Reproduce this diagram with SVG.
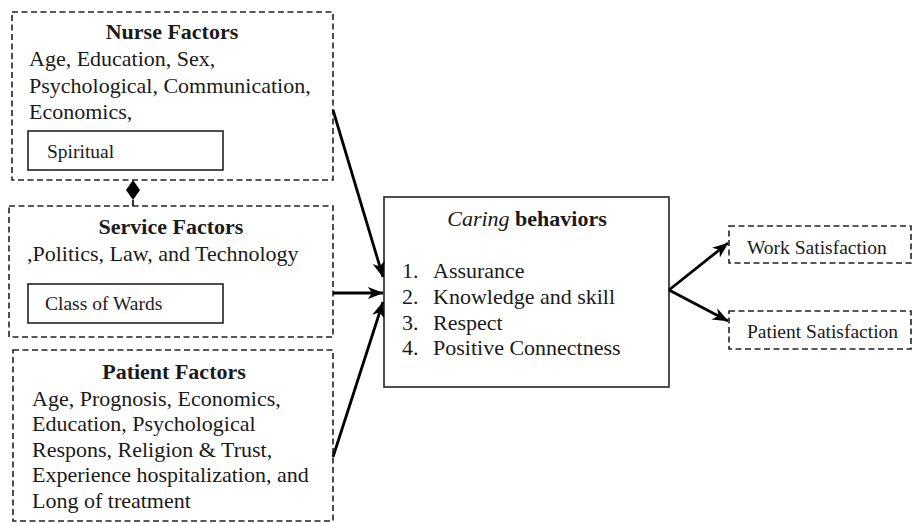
<svg xmlns="http://www.w3.org/2000/svg" width="912" height="523" viewBox="0 0 912 523">
<style>
.dash{fill:none;stroke:#222;stroke-width:1.6;stroke-dasharray:6,3.5}
.solid{fill:none;stroke:#222;stroke-width:1.6}
text{font-family:"Liberation Serif","Times New Roman",serif;fill:#1a1a1a}
.t{font-size:22px}
.h{font-size:22px;font-weight:bold;text-anchor:middle}
.s{font-size:19.5px}
.conn{fill:none;stroke:#000;stroke-width:2.8}
</style>
<defs>
<marker id="arr" markerWidth="16" markerHeight="16" viewBox="0 0 14 12" refX="13.5" refY="6" orient="auto" markerUnits="userSpaceOnUse">
<path d="M0,0.5 L14,6 L0,11.5 L4,6 z" fill="#000"/>
</marker>
</defs>
<rect width="912" height="523" fill="#fff"/>
<g id="nurse">
<rect class="dash" x="12" y="12" width="321" height="168"/>
<text class="h" x="172" y="39">Nurse Factors</text>
<text class="t" x="29" y="66">Age, Education, Sex,</text>
<text class="t" x="29" y="92.5">Psychological, Communication,</text>
<text class="t" x="29" y="119">Economics,</text>
<rect class="solid" x="28" y="131" width="195" height="39"/>
<text class="s" x="47" y="158">Spiritual</text>
</g>
<g id="service">
<rect class="dash" x="9" y="206" width="324" height="131"/>
<text class="h" x="171" y="234">Service Factors</text>
<text class="t" x="27" y="261">,Politics, Law, and Technology</text>
<rect class="solid" x="28" y="284" width="195" height="39"/>
<text class="s" x="45" y="310">Class of Wards</text>
</g>
<g id="patient">
<rect class="dash" x="13" y="350" width="320" height="171"/>
<text class="h" x="174" y="379">Patient Factors</text>
<text class="t" x="32" y="406">Age, Prognosis, Economics,</text>
<text class="t" x="32" y="431">Education, Psychological</text>
<text class="t" x="32" y="456.5">Respons, Religion &amp; Trust,</text>
<text class="t" x="32" y="482">Experience hospitalization, and</text>
<text class="t" x="32" y="507.5">Long of treatment</text>
</g>
<g id="caring">
<rect class="solid" x="384" y="197" width="285" height="190"/>
<text class="h" x="527" y="226"><tspan font-style="italic" font-weight="normal">Caring</tspan> behaviors</text>
<text class="t" x="402" y="278">1.</text>
<text class="t" x="433" y="278">Assurance</text>
<text class="t" x="402" y="303.5">2.</text>
<text class="t" x="433" y="303.5">Knowledge and skill</text>
<text class="t" x="402" y="329.5">3.</text>
<text class="t" x="433" y="329.5">Respect</text>
<text class="t" x="402" y="355">4.</text>
<text class="t" x="433" y="355">Positive Connectness</text>
</g>
<g id="work">
<rect class="dash" x="729" y="226" width="182" height="37"/>
<text class="s" x="747" y="254">Work Satisfaction</text>
</g>
<g id="patientsat">
<rect class="dash" x="729" y="311" width="182" height="38"/>
<text class="s" x="747" y="338">Patient Satisfaction</text>
</g>
<g id="connectors">
<path d="M133,180 L140,190 L133,200 L126,190 z" fill="#000"/>
<line x1="133" y1="200" x2="133" y2="206" stroke="#000" stroke-width="1.6"/>
<line class="conn" x1="333" y1="110" x2="383" y2="277" marker-end="url(#arr)"/>
<line class="conn" x1="333" y1="293" x2="383" y2="293" marker-end="url(#arr)"/>
<line class="conn" x1="333" y1="457" x2="383" y2="302" marker-end="url(#arr)"/>
<line class="conn" x1="669" y1="290" x2="728" y2="243" marker-end="url(#arr)"/>
<line class="conn" x1="669" y1="290" x2="728" y2="321" marker-end="url(#arr)"/>
</g>
</svg>
